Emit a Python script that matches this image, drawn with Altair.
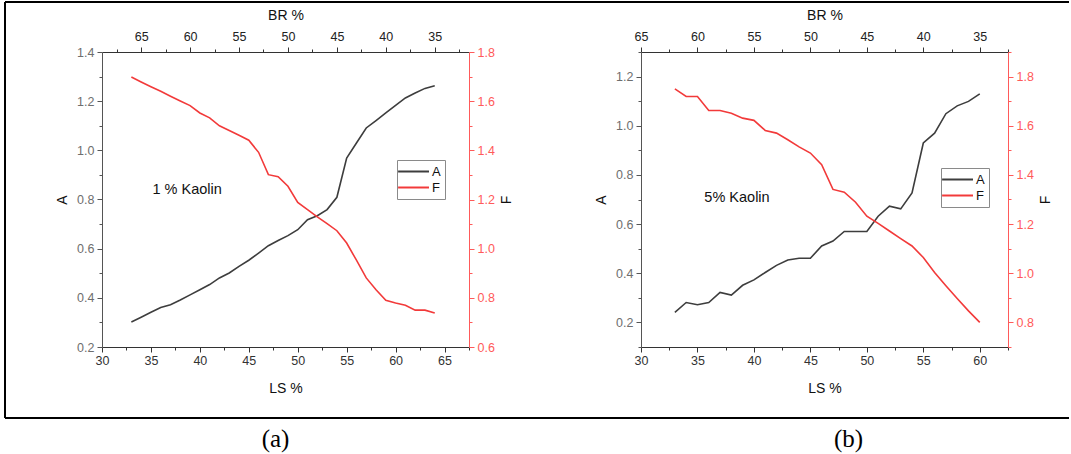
import altair as alt
import pandas as pd

# ---------------- data ----------------
ls_a = [33, 34, 35, 36, 37, 38, 39, 40, 41, 42, 43, 44, 45, 46, 47, 48,
        49, 50, 51, 52, 53, 54, 55, 56, 57, 58, 59, 60, 61, 62, 63, 64]
a_a = [0.302, 0.321, 0.341, 0.361, 0.372, 0.391, 0.412, 0.433, 0.454, 0.481,
       0.501, 0.528, 0.553, 0.582, 0.612, 0.633, 0.653, 0.677, 0.718, 0.734,
       0.759, 0.809, 0.969, 1.030, 1.091, 1.121, 1.152, 1.183, 1.213, 1.233,
       1.252, 1.263]
f_a = [1.698, 1.678, 1.659, 1.640, 1.620, 1.601, 1.582, 1.552, 1.532, 1.500,
       1.481, 1.461, 1.441, 1.392, 1.301, 1.293, 1.254, 1.188, 1.159, 1.129,
       1.102, 1.073, 1.023, 0.953, 0.881, 0.833, 0.790, 0.779, 0.770, 0.750,
       0.750, 0.738]

ls_b = [33, 34, 35, 36, 37, 38, 39, 40, 41, 42, 43, 44, 45, 46, 47, 48,
        49, 50, 51, 52, 53, 54, 55, 56, 57, 58, 59, 60]
a_b = [0.241, 0.281, 0.272, 0.281, 0.322, 0.311, 0.351, 0.373, 0.403, 0.432,
       0.454, 0.461, 0.461, 0.511, 0.531, 0.570, 0.570, 0.570, 0.632, 0.673,
       0.662, 0.727, 0.930, 0.970, 1.049, 1.081, 1.099, 1.130]
f_b = [1.750, 1.719, 1.719, 1.662, 1.662, 1.651, 1.631, 1.622, 1.581, 1.570,
       1.543, 1.514, 1.489, 1.442, 1.341, 1.330, 1.289, 1.232, 1.203, 1.172,
       1.141, 1.111, 1.064, 1.003, 0.949, 0.897, 0.847, 0.800]

# axis tick values (major + minor)
ls_ticks_a = [30, 32.5, 35, 37.5, 40, 42.5, 45, 47.5, 50, 52.5, 55, 57.5, 60, 62.5, 65, 67.5]
ls_ticks_b = [30, 32.5, 35, 37.5, 40, 42.5, 45, 47.5, 50, 52.5, 55, 57.5, 60, 62.5]
br_ticks_a = [32.5, 35, 37.5, 40, 42.5, 45, 47.5, 50, 52.5, 55, 57.5, 60, 62.5, 65, 67.5]
br_ticks_b = [32.5, 35, 37.5, 40, 42.5, 45, 47.5, 50, 52.5, 55, 57.5, 60, 62.5, 65]
a_ticks_a = [0.2, 0.3, 0.4, 0.5, 0.6, 0.7, 0.8, 0.9, 1.0, 1.1, 1.2, 1.3, 1.4]
f_ticks_a = [0.6, 0.7, 0.8, 0.9, 1.0, 1.1, 1.2, 1.3, 1.4, 1.5, 1.6, 1.7, 1.8]
a_ticks_b = [0.1, 0.2, 0.3, 0.4, 0.5, 0.6, 0.7, 0.8, 0.9, 1.0, 1.1, 1.2, 1.3]
f_ticks_b = [0.7, 0.8, 0.9, 1.0, 1.1, 1.2, 1.3, 1.4, 1.5, 1.6, 1.7, 1.8, 1.9]

series_names = ["A", "F"]

GRAY = "#3d3d3d"
RED = "#f23a3a"
W, H = 367, 295
FONT = "Liberation Sans"

MAJ_Y = "round(datum.value*10) % 2 == 0"
MAJ_X = "datum.value % 5 == 0"


def tsize(test):
    return {"condition": {"test": test, "value": 5}, "value": 3}


def axis(orient, title, values, test, label_expr, lab_color, dom_color,
         title_pad, label_pad=3, **extra):
    kw = dict(
        orient=orient, title=title, values=values, grid=False,
        labelExpr=label_expr, tickSize=tsize(test), tickWidth=1,
        tickColor=dom_color, domainColor=dom_color, domainWidth=1,
        labelColor=lab_color, labelFont=FONT, labelFontSize=12.5,
        labelPadding=label_pad, labelOverlap=False, labelFlush=False,
        titleFont=FONT, titleFontSize=14, titleFontWeight="normal",
        titleColor="#111111", titlePadding=title_pad,
    )
    kw.update(extra)
    return alt.Axis(**kw)


def frame_lines(left, right, top, bottom):
    base = alt.Chart(pd.DataFrame({"k": [0]}))
    style = dict(color="black", strokeWidth=2)
    t = base.mark_rule(**style).encode(x=alt.value(left), x2=alt.value(right), y=alt.value(top))
    b = base.mark_rule(**style).encode(x=alt.value(left), x2=alt.value(right), y=alt.value(bottom))
    l = base.mark_rule(**style).encode(x=alt.value(left), y=alt.value(top), y2=alt.value(bottom))
    return [t, b, l]


def panel(ls, a, f, ls_dom, ls_ticks, br_dom, br_ticks, a_dom, a_ticks,
          f_dom, f_ticks, note, note_ls, note_a, leg_x, leg_y, caption,
          cap_dx, frame_left, frame_right):
    df_a = pd.DataFrame({"LS": ls, "A": a, "s": [series_names[0]] * len(ls)})
    df_f = pd.DataFrame({"LS": ls, "F": f, "s": [series_names[1]] * len(ls)})
    cscale = alt.Scale(domain=series_names, range=[GRAY, RED])
    legend = alt.Legend(
        title=None, orient="none", legendX=leg_x, legendY=leg_y,
        symbolType="M-1.6,0H3.15", symbolSize=169, symbolStrokeWidth=2,
        labelOffset=16, labelFont=FONT, labelFontSize=13, labelColor="#111111",
        strokeColor="#8a8a8a", fillColor="white", padding=4, rowPadding=1,
    )
    xs = alt.Scale(domain=ls_dom, nice=False, zero=False)
    ya = alt.Scale(domain=a_dom, nice=False, zero=False)
    yf = alt.Scale(domain=f_dom, nice=False, zero=False)

    ylab = "format(datum.value, '.1f')"
    x_lab = "datum.value % 5 == 0 ? datum.label : ''"
    y_lab = MAJ_Y + " ? " + ylab + " : ''"

    frame = frame_lines(frame_left, frame_right, -50, 366)

    line_a = alt.Chart(df_a).mark_line(strokeWidth=1.6).encode(
        x=alt.X("LS:Q", scale=xs,
                axis=axis("bottom", "LS %", ls_ticks, MAJ_X, x_lab, "#333333",
                          "#333333", 15, label_pad=2)),
        y=alt.Y("A:Q", scale=ya,
                axis=axis("left", "A", a_ticks, MAJ_Y, y_lab, "#6e6e6e",
                          "#555555", 7, label_pad=3)),
        color=alt.Color("s:N", scale=cscale, legend=legend),
    )
    line_f = alt.Chart(df_f).mark_line(strokeWidth=1.6).encode(
        x=alt.X("LS:Q", scale=xs, axis=None),
        y=alt.Y("F:Q", scale=yf,
                axis=axis("right", "F", f_ticks, MAJ_Y, y_lab, "#ff5a5a",
                          "#ff5a5a", 5, label_pad=3, titleAngle=-90,
                          titleBaseline="top")),
        color=alt.Color("s:N", scale=cscale, legend=legend),
    )
    top = alt.Chart(pd.DataFrame({"BR": br_ticks})).mark_point(opacity=0).encode(
        x=alt.X("BR:Q",
                scale=alt.Scale(domain=br_dom, reverse=True, nice=False, zero=False),
                axis=axis("top", "BR %", br_ticks, MAJ_X, x_lab, "#222222",
                          "#333333", 8, label_pad=4)),
    )
    txt = alt.Chart(pd.DataFrame({"LS": [note_ls], "A": [note_a], "t": [note]})).mark_text(
        font=FONT, fontSize=14.5, color="#111111"
    ).encode(
        x=alt.X("LS:Q", scale=xs, axis=None),
        y=alt.Y("A:Q", scale=ya, axis=None),
        text="t:N",
    )

    return alt.layer(*frame, line_a, line_f, top, txt).resolve_scale(
        x="independent", y="independent"
    ).properties(
        width=W, height=H,
        title=alt.TitleParams(
            caption, orient="bottom", frame="group", anchor="middle",
            dx=cap_dx, offset=8, font="Liberation Serif", fontSize=25,
            fontWeight="normal", color="black",
        ),
    )


pa = panel(ls_a, a_a, f_a, [30, 67.5], ls_ticks_a, [31.5, 69], br_ticks_a,
           [0.2, 1.4], a_ticks_a, [0.6, 1.8], f_ticks_a,
           "1 % Kaolin", 38.7, 0.84, 295, 108, "(a)", -10, -97, 967)
pb = panel(ls_b, a_b, f_b, [30, 62.5], ls_ticks_b, [32.5, 65], br_ticks_b,
           [0.1, 1.3], a_ticks_b, [0.7, 1.9], f_ticks_b,
           "5% Kaolin", 38.5, 0.707, 300, 116, "(b)", 24, -636, 428)

chart = alt.hconcat(pa, pb, spacing=172, bounds="flush").resolve_scale(
    color="independent"
).properties(
    padding={"left": 4, "top": 1, "right": 0, "bottom": 2},
    background="white",
).configure_view(strokeWidth=0)

chart.save("out.html", embed_options={"renderer": "svg", "actions": False})
